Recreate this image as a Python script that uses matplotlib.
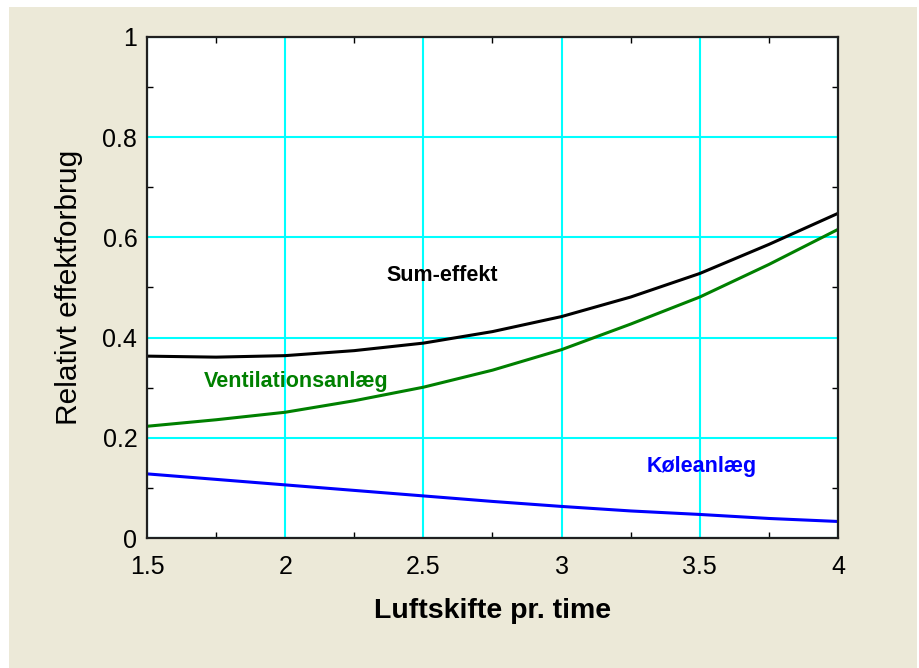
import matplotlib
matplotlib.use("Agg")
import matplotlib.pyplot as plt
from matplotlib.patches import Rectangle
from matplotlib.ticker import MultipleLocator

# Air changes per hour
air_changes = [1.5, 1.75, 2.0, 2.25, 2.5, 2.75, 3.0, 3.25, 3.5, 3.75, 4.0]

# Relative power consumption
sum_effect = [0.363, 0.361, 0.364, 0.374, 0.389, 0.412, 0.442, 0.481, 0.528, 0.586, 0.648]
ventilation = [0.223, 0.236, 0.251, 0.274, 0.301, 0.335, 0.376, 0.427, 0.481, 0.546, 0.616]
cooling = [0.128, 0.117, 0.106, 0.095, 0.084, 0.073, 0.063, 0.054, 0.047, 0.039, 0.033]

x_ticks = [1.5, 2.0, 2.5, 3.0, 3.5, 4.0]
x_tick_labels = ["1.5", "2", "2.5", "3", "3.5", "4"]
y_ticks = [0.0, 0.2, 0.4, 0.6, 0.8, 1.0]
y_tick_labels = ["0", "0.2", "0.4", "0.6", "0.8", "1"]

FONT = "Liberation Sans"
BEIGE = "#ECE9D8"

fig = plt.figure(figsize=(9.19, 6.68), dpi=100)
fig.patch.set_facecolor("white")
panel = Rectangle((9 / 919, 0), (917 - 9) / 919, 1 - 7 / 668,
                  transform=fig.transFigure, facecolor=BEIGE,
                  edgecolor="none", zorder=-10)
fig.add_artist(panel)

ax = fig.add_axes([147 / 919, 1 - 538 / 668, 691 / 919, 501 / 668])
ax.set_zorder(1)
ax.set_facecolor("white")

ax.plot(air_changes, sum_effect, color="black", lw=2.2, zorder=3)
ax.plot(air_changes, ventilation, color="#008000", lw=2.2, zorder=3)
ax.plot(air_changes, cooling, color="#0000FF", lw=2.2, zorder=3)

ax.set_xlim(1.5, 4.0)
ax.set_ylim(0.0, 1.0)
ax.set_xticks(x_ticks)
ax.set_xticklabels(x_tick_labels, fontfamily=FONT, fontsize=18)
ax.set_yticks(y_ticks)
ax.set_yticklabels(y_tick_labels, fontfamily=FONT, fontsize=18)
ax.xaxis.set_minor_locator(MultipleLocator(0.25))
ax.yaxis.set_minor_locator(MultipleLocator(0.1))

ax.tick_params(which="major", length=0, pad=7)
ax.tick_params(axis="x", which="major", pad=12)
ax.tick_params(which="minor", direction="in", length=4, width=1,
               top=True, right=True, bottom=True, left=True)

ax.grid(True, which="major", color="#00FFFF", lw=1.5, zorder=1)
for s in ax.spines.values():
    s.set_color("#202020")
    s.set_linewidth(1.6)
    s.set_zorder(4)

ax.set_xlabel("Luftskifte pr. time", fontfamily=FONT, fontsize=20.5,
              fontweight="bold", labelpad=14)
ax.set_ylabel("Relativt effektforbrug", fontfamily=FONT, fontsize=21.5,
              labelpad=14)

ax.text(2.567, 0.512, "Sum-effekt", color="black", fontfamily=FONT,
        fontsize=15.5, fontweight="bold", ha="center", va="baseline", zorder=5)
ax.text(2.039, 0.301, "Ventilationsanlæg", color="#008000", fontfamily=FONT,
        fontsize=15.5, fontweight="bold", ha="center", va="baseline", zorder=5)
ax.text(3.508, 0.132, "Køleanlæg", color="#0000FF", fontfamily=FONT,
        fontsize=15.5, fontweight="bold", ha="center", va="baseline", zorder=5)

fig.savefig("out.png", dpi=100, facecolor=fig.get_facecolor())
